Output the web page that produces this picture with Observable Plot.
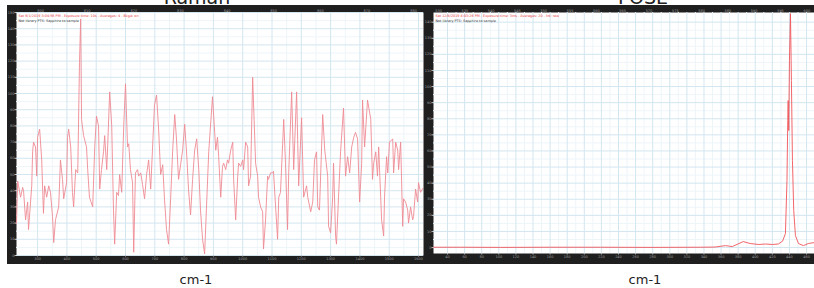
<!DOCTYPE html>
<html><head><meta charset="utf-8">
<script src="https://cdn.jsdelivr.net/npm/d3@7"></script>
<script src="https://cdn.jsdelivr.net/npm/@observablehq/plot@0.6"></script>
<style>
body{margin:0;background:#fff;}
#wrap{position:relative;width:814px;height:288px;overflow:hidden;font-family:"DejaVu Sans",Verdana,sans-serif;}
.panel{position:absolute;top:5px;line-height:0;}
#over{position:absolute;left:0;top:0;pointer-events:none;}
</style></head><body><div id="wrap"></div>
<script>
// ---- Panel titles and axis captions ----
const titles = ["Raman", "FOSE"];
const axisCaption = "cm-1";

// ---- Raman panel (left) ----
const ramanShift = [228,232,235,242,249,252,259,266,269,280,283,286,293,297,300,307,314,320,324,331,338,344,351,355,361,372,378,385,389,399,402,406,413,419,423,430,437,443,447,450,457,467,471,477,488,495,501,508,512,518,525,529,536,539,546,553,559,563,570,576,580,587,594,600,607,611,617,624,628,634,641,645,652,
658,665,672,679,686,692,699,706,713,720,727,733,740,747,754,761,768,774,781,788,795,802,809,815,822,829,836,843,850,856,863,870,
884,897,908,914,918,925,931,935,942,948,952,959,966,969,976,983,986,993,1000,1003,1010,1017,1020,1027,1034,1044,1051,1054,1061,1068,1071,1078,1085,1088,1095,1102,1105,1119,1123,1129,1140,1146,1153,1157,1167,1174,1184,1191,1201,1208,1218,1222,1232,1239,1245,1252,1256,1262,1273,1280,1290,1293,1300,1307,1310,1317,1320,1327,1334,1344,1351,1358,1365,1372,1379,1385,1392,1399,1406,1409,1416,1426,1437,1443,1447,1454,1460,1464,1474,1481,1484,1491,1495,1501,1512,1515,1522,1529,1532,1539,1546,1549,1556,1563,1566,1573,1580,1583,1590,1597,1600,1607,1617];
const ramanIntensity = [20,46,43,36,42,40,22,33,16,43,64,70,67,49,73,78,59,26,43,36,43,39,24,8,22,30,59,47,35,45,73,78,67,39,30,53,51,119,146,84,74,67,53,36,30,67,86,80,41,53,64,74,53,67,101,80,28,7,39,37,50,39,80,106,67,69,53,45,2,51,53,49,51,
44,35,50,59,41,65,93,99,78,50,56,35,16,7,35,65,87,72,47,56,65,81,62,41,25,47,65,72,53,28,10,1,
64,98,65,73,61,36,55,57,53,59,57,65,70,47,22,49,57,55,59,53,70,67,43,49,110,57,49,36,30,27,4,22,49,47,51,51,52,10,36,39,84,57,16,51,101,53,101,43,85,36,43,36,27,33,59,64,30,28,87,65,49,18,14,36,57,12,7,36,64,91,49,61,51,67,73,76,72,33,57,96,67,96,84,47,57,64,49,67,22,12,36,61,51,70,72,51,70,65,53,70,18,35,33,28,20,30,22,24,41,33,45,39,42];
const ramanXTicks = [300,400,500,600,700,800,900,1000,1100,1200,1300,1400,1500,1600];
const ramanYTicks = [0,10,20,30,40,50,60,70,80,90,100,110,120,130,140,150];
const ramanTopLabels = [800,810,820,830,840,850,860,870,880];
const ramanHeader = ["Sat 6/1/2019 3:04:56 PM - Exposure time: 10s - Averages: 4 - Bkgd: on",
                     "Not library PTS: Sapphire to sample"];

// ---- FOSE panel (right) ----
const foseX = [23.6,55,102,160,219,277,336,353,365,373,386,394,404,412,420,427,432,435.3,437.1,438,438.5,439.2,440,441.2,442.3,443.5,445,447,450.5,456.4,462,469.3];
const foseY = [0.2,0.2,0.1,0.2,0.2,0.1,0.2,0.3,1.2,0.6,3.7,2.5,1.9,2.2,1.9,2.2,4,8.7,41.6,78.9,91.3,72.7,116.1,145.3,103.7,54,23,7.5,2.5,1.2,2.5,3.1];
const foseXTicks = [40,60,80,100,120,140,160,180,200,220,240,260,280,300,320,340,360,380,400,420,440,460];
const foseYTicks = [0,10,20,30,40,50,60,70,80,90,100,110,120,130,140];
const foseTopLabels = [530,535,540,545,550,555,560,565,570,575,580,585,590,595,600];
const foseHeader = ["Sat 12/8/2019 4:03:26 PM - Exposure time: 3ms - Averages: 20 - Int: raw",
                    "Not library PTS: Sapphire to sample"];

const wrap = document.getElementById("wrap");
const gridMajor = "#d3e6f0", gridMinor = "#eef5f9";
const frameBg = "#1f1f1f", labelFill = "#9d9d9d";

function half(ticks){ const out=[]; for(let i=0;i<ticks.length-1;i++) out.push((ticks[i]+ticks[i+1])/2); return out; }

function panel({xs, ys, xDomain, yDomain, xTicks, yTicks, topLabels, topRange, header, width, ml, mr, mb, stroke, left}) {
  const data = xs.map((x,i)=>({x, y: ys[i]}));
  const topMap = d3.scaleLinear().domain([topLabels[0], topLabels[topLabels.length-1]]).range(topRange);
  const chart = Plot.plot({
    width, height: 259,
    marginLeft: ml, marginRight: mr, marginTop: 7, marginBottom: mb,
    style: {background: frameBg, fontFamily: "DejaVu Sans, sans-serif"},
    x: {domain: xDomain, axis: null},
    y: {domain: yDomain, axis: null},
    marks: [
      Plot.frame({fill: "white", stroke: null}),
      Plot.gridX(half(xTicks), {stroke: gridMinor, strokeOpacity: 1}),
      Plot.gridY(half(yTicks), {stroke: gridMinor, strokeOpacity: 1}),
      Plot.gridX(xTicks, {stroke: gridMajor, strokeOpacity: 1}),
      Plot.gridY(yTicks, {stroke: gridMajor, strokeOpacity: 1}),
      Plot.axisX(xTicks, {anchor: "bottom", tickSize: 1.5, tickPadding: 0.5, fontSize: 3.5, fill: labelFill, stroke: "#bbb", label: null, tickFormat: d=>String(d)}),
      Plot.axisY(yTicks, {anchor: "left", tickSize: 1.5, tickPadding: 0.5, fontSize: 3.5, fill: labelFill, stroke: "#bbb", label: null, tickFormat: d=>String(d)}),
      Plot.text(topLabels, {x: d=>topMap(d), text: d=>String(d), frameAnchor: "top", dy: -3.5, fontSize: 3.5, fill: labelFill}),
      Plot.line(data, {x: "x", y: "y", stroke, strokeWidth: 0.9, clip: true}),
      Plot.text([header[0]], {text: d=>d, frameAnchor: "top-left", textAnchor: "start", lineAnchor: "top", dx: 2, dy: 2, fontSize: 3.4, fill: "#e8383d"}),
      Plot.text([header[1]], {text: d=>d, frameAnchor: "top-left", textAnchor: "start", lineAnchor: "top", dx: 2, dy: 7, fontSize: 3.4, fill: "#333"})
    ]
  });
  const div = document.createElement("div");
  div.className = "panel";
  div.style.left = left + "px";
  div.appendChild(chart);
  wrap.appendChild(div);
}

panel({xs: ramanShift, ys: ramanIntensity, xDomain: [228,1617], yDomain: [0,150],
       xTicks: ramanXTicks, yTicks: ramanYTicks, topLabels: ramanTopLabels, topRange: [310,1583],
       header: ramanHeader, width: 417, ml: 9, mr: 1, mb: 9, stroke: "#ee8a93", left: 7});
panel({xs: foseX, ys: foseY, xDomain: [23.6,469.3], yDomain: [-3.7,146],
       xTicks: foseXTicks, yTicks: foseYTicks, topLabels: foseTopLabels, topRange: [29.5,460.3],
       header: foseHeader, width: 390, ml: 9, mr: 0, mb: 11, stroke: "#f0555a", left: 424});

// overlay: titles and captions
const ns = "http://www.w3.org/2000/svg";
const over = document.createElementNS(ns, "svg");
over.setAttribute("id","over"); over.setAttribute("width", 814); over.setAttribute("height", 288);
function addText(str, x, y, size){
  const t = document.createElementNS(ns, "text");
  t.setAttribute("x", x); t.setAttribute("y", y); t.setAttribute("text-anchor","middle");
  t.setAttribute("font-size", size); t.setAttribute("fill", "#222");
  t.setAttribute("font-family", "DejaVu Sans, sans-serif");
  t.textContent = str; over.appendChild(t);
}
addText(titles[0], 197, 3.5, 19);
addText(titles[1], 643, 3.5, 19);
addText(axisCaption, 196, 284, 13);
addText(axisCaption, 645, 284, 13);
wrap.appendChild(over);
</script></body></html>
